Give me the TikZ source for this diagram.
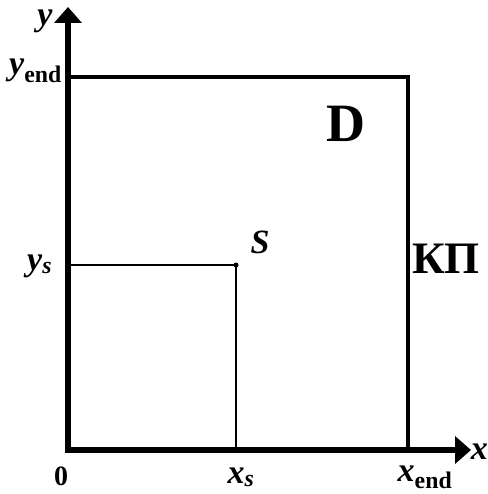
\documentclass[tikz,border=0pt]{standalone}
\usepackage{fontspec}
\setmainfont{Liberation Serif}
\usetikzlibrary{arrows.meta}
\begin{document}
\begin{tikzpicture}[x=1pt,y=-1pt,
  axis/.style={line width=6.5pt,-{Triangle[length=16pt,width=27pt]}},
  boxline/.style={line width=3.8pt},
  thinline/.style={line width=2.4pt},
  lbl/.style={inner sep=0pt,font=\fontsize{34}{36}\selectfont\bfseries\itshape},
  numlbl/.style={inner sep=0pt,font=\fontsize{28}{30}\selectfont\bfseries}]
\useasboundingbox (0,0) rectangle (487,494);
\coordinate (O) at (68,450);
\coordinate (xtip) at (471,450);
\coordinate (ytip) at (68,7);
\coordinate (TL) at (68,77);
\coordinate (TR) at (408,77);
\coordinate (BR) at (408,450);
\coordinate (S) at (236,265);
\coordinate (Ys) at (68,265);
\coordinate (Xs) at (236,450);
\draw[boxline] (TL) -- (TR) -- (BR);
\draw[thinline] (Ys) -- (S) -- (Xs);
\fill (S) circle (2.5pt);
\draw[axis] (65,450) -- (xtip);
\draw[axis] (68,453) -- (ytip);
\node[lbl,anchor=base] (ylab) at (45,26) {y};
\node[lbl,anchor=base west] (yend) at (9,75) {y\textsubscript{\upshape end}};
\node[lbl,anchor=base west] (ys) at (27,270) {y\textsubscript{s}};
\node[lbl] (slab) at (260,242) {S};
\node[inner sep=0pt,font=\fontsize{54}{56}\selectfont\bfseries] (dlab) at (346,124) {D};
\node[inner sep=0pt,font=\fontsize{45}{47}\selectfont\bfseries,anchor=base west] (kp) at (412,273) {КП};
\node[numlbl,anchor=base] (zero) at (61,485) {0};
\node[lbl,anchor=base] (xs) at (241,483) {x\textsubscript{s}};
\node[lbl,anchor=base] (xend) at (425,481) {x\textsubscript{\upshape end}};
\node[lbl,anchor=east] (xlab) at (488,452) {x};
\end{tikzpicture}
\end{document}
